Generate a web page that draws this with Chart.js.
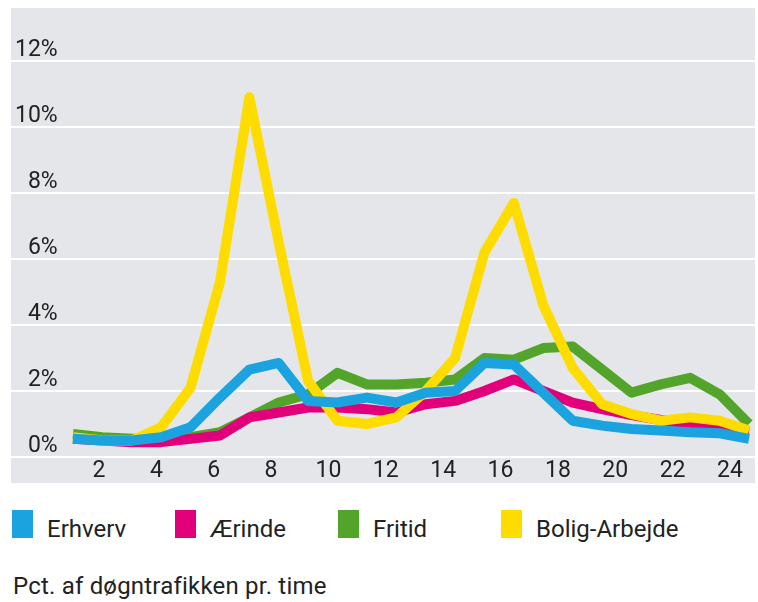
<!DOCTYPE html>
<html>
<head>
<meta charset="utf-8">
<script src="https://cdn.jsdelivr.net/npm/chart.js@4.4.1/dist/chart.umd.min.js"></script>
<style>
  html, body { margin: 0; padding: 0; background: #fff; }
  #wrap {
    position: relative; width: 758px; height: 602px;
    font-family: Roboto, "Liberation Sans", sans-serif;
    color: #222;
  }
  #chart { position: absolute; left: 0; top: 0; }
  #legend { position: absolute; left: 12px; top: 510px; display: flex; }
  .item { width: 163px; display: flex; align-items: flex-start; white-space: nowrap; }
  .swatch { width: 21px; height: 28px; margin-right: 14px; flex: none; }
  .item span { font-size: 24px; line-height: 28px; margin-top: 5px; }
  #caption { position: absolute; left: 13px; top: 572px; font-size: 24px; line-height: 28px; letter-spacing: 0.2px; white-space: nowrap; }
</style>
</head>
<body>
<div id="wrap">
  <canvas id="chart" width="758" height="490"></canvas>
  <div id="legend"></div>
  <div id="caption">Pct. af døgntrafikken pr. time</div>
</div>
<script>
  // hour index of each point (1..24)
  const hours = [1, 2, 3, 4, 5, 6, 7, 8, 9, 10, 11, 12, 13, 14, 15, 16, 17, 18, 19, 20, 21, 22, 23, 24];
  const hourTicks = [2, 4, 6, 8, 10, 12, 14, 16, 18, 20, 22, 24];
  const pctTicks = [0, 2, 4, 6, 8, 10, 12];

  const seriesNames = ["Erhverv", "Ærinde", "Fritid", "Bolig-Arbejde"];
  const seriesColors = ["#1ba3e0", "#e2007a", "#52a52a", "#ffdc00"];

  const erhverv = [0.55, 0.5, 0.5, 0.6, 0.9, 1.8, 2.65, 2.85, 1.7, 1.65, 1.8, 1.65, 1.95, 2.0, 2.85, 2.8, 1.95, 1.1, 0.95, 0.85, 0.8, 0.75, 0.72, 0.55];
  const aerinde = [0.55, 0.5, 0.45, 0.45, 0.55, 0.65, 1.2, 1.35, 1.5, 1.5, 1.45, 1.35, 1.6, 1.7, 2.0, 2.35, 2.0, 1.65, 1.45, 1.27, 1.12, 1.0, 0.9, 0.75];
  const fritid = [0.7, 0.6, 0.55, 0.55, 0.6, 0.75, 1.2, 1.65, 1.9, 2.55, 2.2, 2.2, 2.25, 2.35, 3.0, 2.95, 3.3, 3.35, 2.65, 1.95, 2.2, 2.4, 1.9, 1.0];
  const bolig = [0.6, 0.5, 0.5, 0.9, 2.1, 5.3, 10.9, 6.5, 2.3, 1.1, 1.0, 1.2, 2.0, 3.0, 6.2, 7.7, 4.6, 2.7, 1.6, 1.3, 1.1, 1.2, 1.1, 0.8];

  const values = [erhverv, aerinde, fritid, bolig];
  // which line sits on top (0 = drawn last)
  const drawOrder = [0, 2, 3, 1];

  const font = { family: 'Roboto, "Liberation Sans", sans-serif', size: 23 };

  const bgPlugin = {
    id: "bg",
    beforeDraw(chart) {
      const a = chart.chartArea;
      const c = chart.ctx;
      c.save();
      c.fillStyle = "#e4e6ea";
      c.fillRect(a.left, a.top - 53, a.right - a.left, a.bottom - a.top + 53 + 26);
      c.restore();
    },
  };

  const datasets = values.map((vals, i) => ({
    label: seriesNames[i],
    data: vals.map((v, j) => ({ x: hours[j], y: v })),
    borderColor: seriesColors[i],
    backgroundColor: seriesColors[i],
    borderWidth: 10,
    pointRadius: 0,
    tension: 0,
    borderJoinStyle: "round",
    fill: false,
    order: drawOrder[i],
    xAxisID: "x",
  }));

  new Chart(document.getElementById("chart"), {
    type: "line",
    data: { datasets },
    options: {
      responsive: false,
      animation: false,
      layout: { padding: { left: 11, right: 3, top: 61, bottom: 7 } },
      plugins: { legend: { display: false }, tooltip: { enabled: false } },
      scales: {
        x: { type: "linear", min: -1.109, max: 24.204, display: false },
        xt: {
          type: "linear",
          position: "bottom",
          min: -1.068,
          max: 24.873,
          grid: { display: false, drawTicks: false },
          border: { display: false },
          afterBuildTicks: (s) => { s.ticks = hourTicks.map((v) => ({ value: v })); },
          afterFit: (s) => { s.height = 26; },
          ticks: { font, color: "#222", padding: 0, maxRotation: 0, autoSkip: false, callback: (v) => String(v) },
        },
        y: {
          min: 0,
          max: 12,
          position: "left",
          grid: { color: "#ffffff", lineWidth: 2, drawTicks: false },
          border: { display: false },
          afterBuildTicks: (s) => { s.ticks = pctTicks.map((v) => ({ value: v })); },
          afterFit: (s) => { s.width = 0; },
          ticks: { mirror: true, crossAlign: "far", padding: 4, labelOffset: -11, font, color: "#222", callback: (v) => v + "%" },
        },
      },
    },
    plugins: [bgPlugin],
  });

  const legend = document.getElementById("legend");
  seriesNames.forEach((name, i) => {
    const it = document.createElement("div");
    it.className = "item";
    it.innerHTML = `<div class="swatch" style="background:${seriesColors[i]}"></div><span>${name}</span>`;
    legend.appendChild(it);
  });
</script>
</body>
</html>
